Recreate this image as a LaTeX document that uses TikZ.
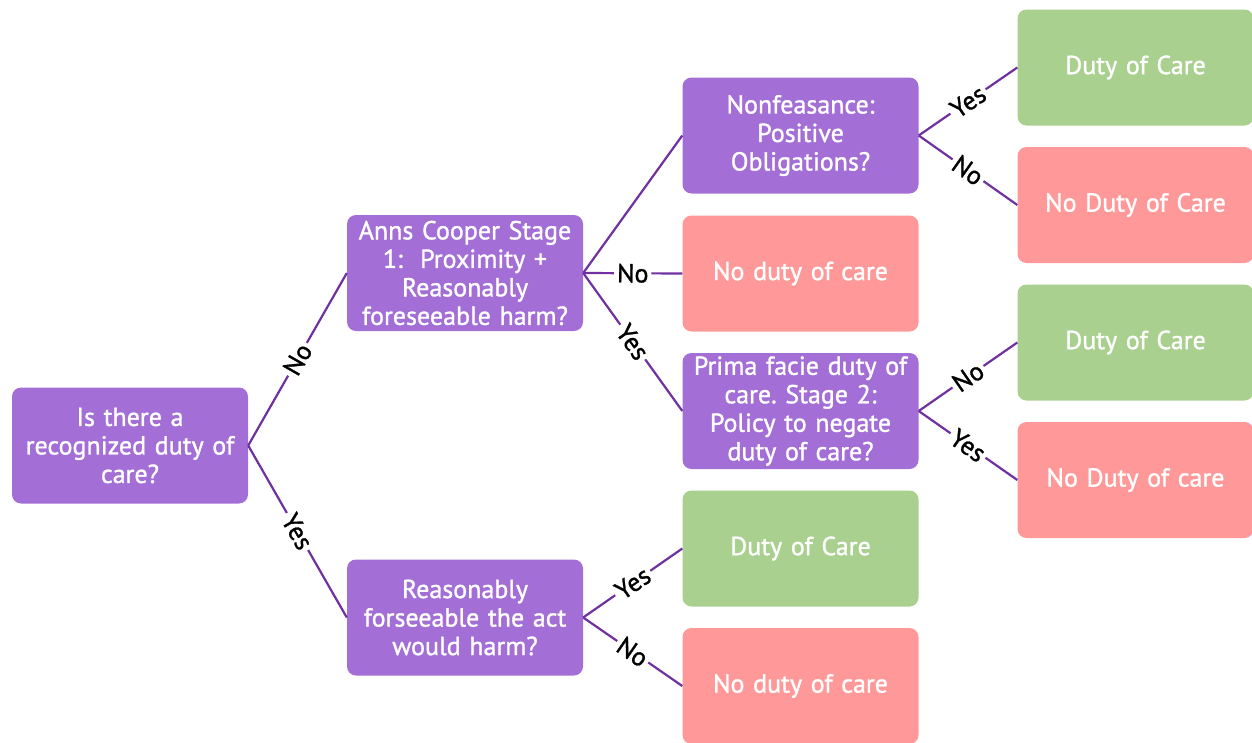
\documentclass[tikz,border=0pt]{standalone}
\usepackage{fontspec}
\setmainfont{PT Sans}[BoldFont=PT Sans, BoldFeatures={FakeBold=1.2}]
\frenchspacing
\definecolor{qpurple}{HTML}{A36ED6}
\definecolor{qgreen}{HTML}{A9D08E}
\definecolor{qpink}{HTML}{FF9999}
\definecolor{qline}{HTML}{7030A0}
\begin{document}
\begin{tikzpicture}[x=1pt,y=-1pt,
  box/.style={rounded corners=9pt, minimum width=236pt, minimum height=116pt,
    text width=228pt, align=center, text=white, inner sep=0pt,
    font=\fontsize{26}{28.5}\selectfont\bfseries},
  qbox/.style={box, fill=qpurple},
  yesbox/.style={box, fill=qgreen},
  nobox/.style={box, fill=qpink},
  conn/.style={draw=qline, line width=2.2pt},
  lab/.style={fill=white, text=black, inner sep=3pt, sloped,
    font=\fontsize{26}{28}\selectfont\bfseries}
]
\useasboundingbox (0,0) rectangle (1252,742);
\node[qbox] (root) at (130,445.5) {Is there a\\recognized duty of\\care?};
\node[qbox] (anns) at (465,273) {Anns Cooper Stage\\1:\ \ Proximity +\\Reasonably\\foreseeable harm?};
\node[qbox] (reas) at (465,617.5) {Reasonably\\forseeable the act\\would harm?};
\node[qbox] (nonf) at (800.5,135.5) {Nonfeasance:\\Positive\\Obligations?};
\node[nobox] (nd1) at (800.5,273.5) {No duty of care};
\node[qbox] (prima) at (800.5,411) {Prima facie duty of\\care. Stage 2:\\Policy to negate\\duty of care?};
\node[yesbox] (dc1) at (800.5,548.5) {Duty of Care};
\node[nobox] (nd2) at (800.5,686) {No duty of care};
\node[yesbox] (dc2) at (1135.5,67.5) {Duty of Care};
\node[nobox] (nd3) at (1135.5,205) {No Duty of Care};
\node[yesbox] (dc3) at (1135.5,342.5) {Duty of Care};
\node[nobox] (nd4) at (1135.5,480) {No Duty of care};

\draw[conn] (root.east) -- node[lab] {No} (anns.west);
\draw[conn] (root.east) -- node[lab] {Yes} (reas.west);
\draw[conn] (anns.east) -- (nonf.west);
\draw[conn] (anns.east) -- node[lab] {No} (nd1.west);
\draw[conn] (anns.east) -- node[lab] {Yes} (prima.west);
\draw[conn] (reas.east) -- node[lab] {Yes} (dc1.west);
\draw[conn] (reas.east) -- node[lab] {No} (nd2.west);
\draw[conn] (nonf.east) -- node[lab] {Yes} (dc2.west);
\draw[conn] (nonf.east) -- node[lab] {No} (nd3.west);
\draw[conn] (prima.east) -- node[lab] {No} (dc3.west);
\draw[conn] (prima.east) -- node[lab] {Yes} (nd4.west);
\end{tikzpicture}
\end{document}
